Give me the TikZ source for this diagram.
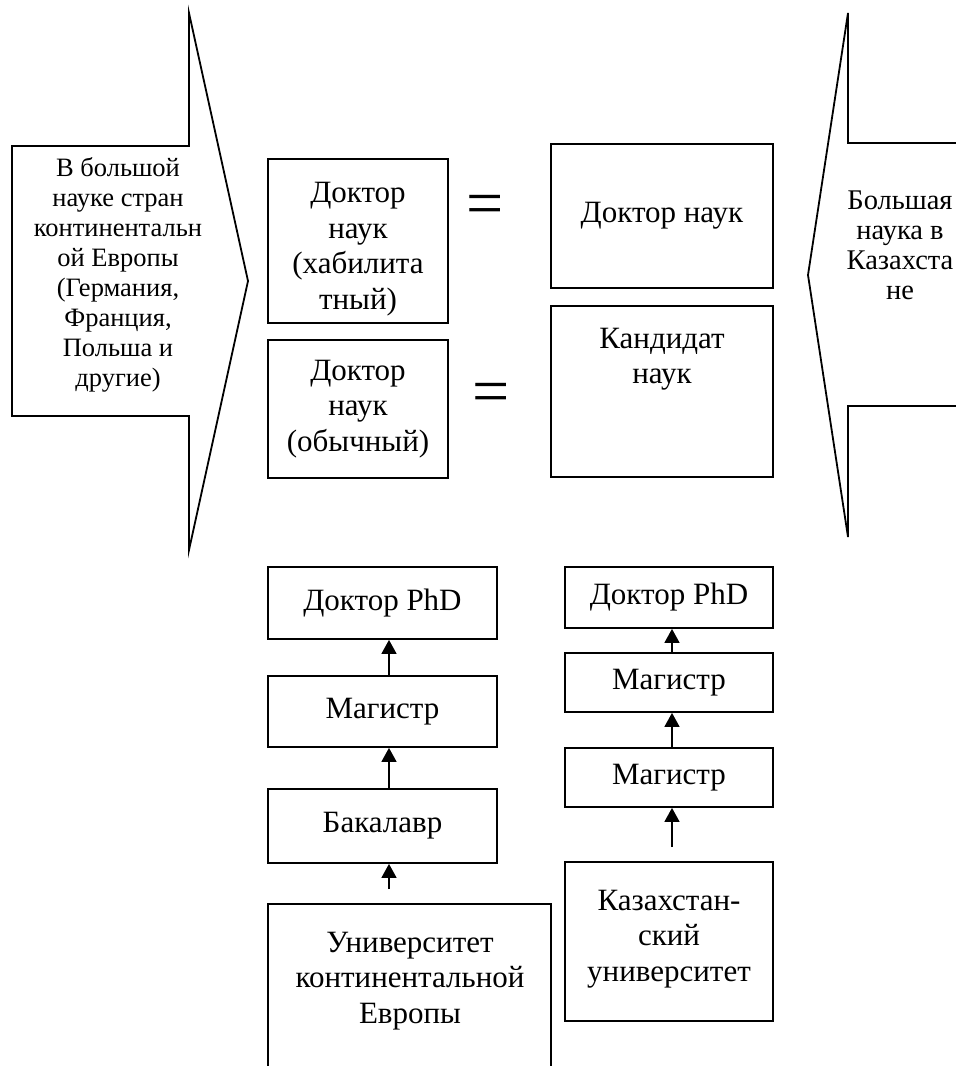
\documentclass[tikz,border=0pt]{standalone}
\usepackage{fontspec}
\setmainfont{Liberation Serif}
\usetikzlibrary{arrows.meta}
\tikzset{
  box/.style={draw, line width=1.8pt, inner sep=0pt, align=center},
  big/.style={font=\fontsize{31}{35.5}\selectfont},
  txt/.style={big, align=center, inner sep=0pt},
  side/.style={font=\fontsize{26.5}{30}\selectfont, align=center, inner sep=0pt},
  sider/.style={font=\fontsize{28.5}{30}\selectfont, align=center, inner sep=0pt},
  eqs/.style={font=\fontsize{66}{66}\selectfont, inner sep=0pt, anchor=base},
  arr/.style={line width=1.6pt, -{Triangle[width=15pt,length=14pt]}},
  shp/.style={line width=1.8pt, line join=miter}
}
\begin{document}
\begin{tikzpicture}[x=1pt,y=-1pt]
\useasboundingbox (0,0) rectangle (956,1066);
\clip (0,0) rectangle (956,1066);
% left big arrow
\draw[shp] (189,13) -- (248,281) -- (189,550) -- (189,416) -- (12,416) -- (12,146) -- (189,146) -- cycle;
\node[side] (la) at (118,275) {В большой\\науке стран\\континентальн\\ой Европы\\(Германия,\\Франция,\\Польша и\\другие)};
% right big arrow
\draw[shp] (965,143) -- (848,143) -- (848,13) -- (808,275) -- (848,537) -- (848,406) -- (965,406);
\node[sider] (ra) at (900,245) {Большая\\наука в\\Казахста\\не};
% top boxes
\node[box,minimum width=180pt,minimum height=164pt] (A) at (358,241) {};
\node[txt] (At) at (358,249) {Доктор\\наук\\(хабилита\\тный)};
\node[box,big,minimum width=180pt,minimum height=138pt] (B) at (358,409) {Доктор\\наук\\(обычный)};
\node[box,big,minimum width=222pt,minimum height=144pt] (C) at (662,216) {Доктор наук};
\node[box,minimum width=222pt,minimum height=171pt] (D) at (662,391.5) {};
\node[txt] (Dt) at (662,359) {Кандидат\\наук};
\node[eqs] (eq1) at (485.5,225) {=};
\node[eqs] (eq2) at (491.5,413) {=};
% left column
\node[box,big,minimum width=229pt,minimum height=72pt] (L1) at (382.5,603) {Доктор PhD};
\node[box,big,minimum width=229pt,minimum height=71pt] (L2) at (382.5,711.5) {Магистр};
\node[box,big,minimum width=229pt,minimum height=74pt] (L3) at (382.5,826) {Бакалавр};
\node[box,minimum width=283pt,minimum height=180pt] (L4) at (409.5,994) {};
\node[txt] (L4t) at (410,981) {Университет\\континентальной\\Европы};
% right column
\node[box,big,minimum width=208pt,minimum height=61pt] (R1) at (669,597.5) {Доктор PhD};
\node[box,big,minimum width=208pt,minimum height=59pt] (R2) at (669,682.5) {Магистр};
\node[box,big,minimum width=208pt,minimum height=59pt] (R3) at (669,777.5) {Магистр};
\node[box,minimum width=208pt,minimum height=159pt] (R4) at (669,941.5) {};
\node[txt] (R4t) at (669,939) {Казахстан-\\ский\\университет};
% connectors
\coordinate (l4s) at ([xshift=-20.5pt,yshift=14pt]L4.north);
\coordinate (r4s) at ([xshift=3pt,yshift=14pt]R4.north);
\draw[arr] ([xshift=6.5pt]L2.north) -- ([xshift=6.5pt]L1.south);
\draw[arr] ([xshift=6.5pt]L3.north) -- ([xshift=6.5pt]L2.south);
\draw[arr] (l4s) -- ([xshift=6.5pt]L3.south);
\draw[arr] ([xshift=3pt]R2.north) -- ([xshift=3pt]R1.south);
\draw[arr] ([xshift=3pt]R3.north) -- ([xshift=3pt]R2.south);
\draw[arr] (r4s) -- ([xshift=3pt]R3.south);
\end{tikzpicture}
\end{document}
